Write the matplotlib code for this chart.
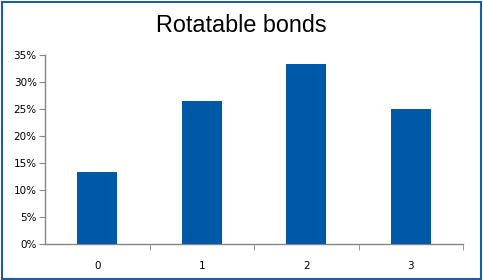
import matplotlib
matplotlib.use("Agg")
import matplotlib.pyplot as plt
from matplotlib.patches import Rectangle
from matplotlib.ticker import PercentFormatter

categories = ["0", "1", "2", "3"]
values = [13.3, 26.5, 33.3, 25.0]
yticks = [0, 5, 10, 15, 20, 25, 30, 35]

fig = plt.figure(figsize=(4.83, 2.80), dpi=100)
ax = fig.add_axes([45 / 483, 1 - 244 / 280, 418 / 483, 189 / 280])

x = range(len(categories))
ax.bar(x, values, width=0.38, color="#0058a8", zorder=3)

ax.set_xlim(-0.5, len(categories) - 0.5)
ax.set_ylim(0, 35)
ax.set_yticks(yticks)
ax.yaxis.set_major_formatter(PercentFormatter(decimals=0))
ax.set_xticks(list(x))
ax.set_xticklabels(categories)
# excel style ticks between categories
ax.set_xticks([i + 0.5 for i in x], minor=True)
ax.tick_params(axis="x", which="major", length=0, pad=12, labelsize=7.5)
ax.tick_params(axis="x", which="minor", length=4, color="#868686", direction="out")
ax.tick_params(axis="y", length=4, color="#868686", labelsize=7.5, pad=2)

for side in ["top", "right"]:
    ax.spines[side].set_visible(False)
for side in ["left", "bottom"]:
    ax.spines[side].set_color("#868686")
    ax.spines[side].set_linewidth(1)

fig.text(0.5, 1 - 25 / 280, "Rotatable bonds", ha="center", va="center",
         fontsize=16.8, family="Liberation Sans")

fig.patches.append(Rectangle((1.5 / 483, 1.5 / 280), 479 / 483, 277 / 280,
                             transform=fig.transFigure, fill=False,
                             edgecolor="#1f5c99", linewidth=1.5))

fig.savefig("out.png", dpi=100)
